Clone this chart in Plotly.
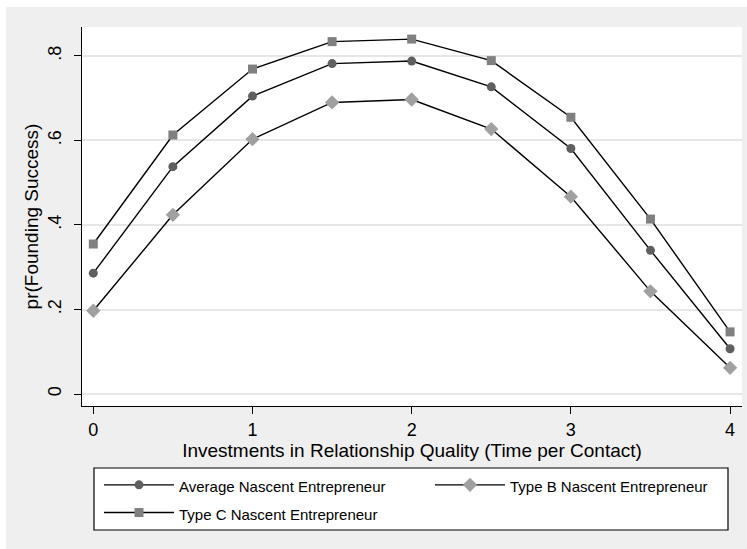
import plotly.graph_objects as go

# Investments in relationship quality (time per contact)
x_vals = [0, 0.5, 1, 1.5, 2, 2.5, 3, 3.5, 4]

# Predicted probability of founding success by entrepreneur type
avg_entrepreneur = [0.286, 0.538, 0.705, 0.782, 0.788, 0.727, 0.581, 0.340, 0.107]
type_b_entrepreneur = [0.197, 0.424, 0.603, 0.690, 0.697, 0.627, 0.467, 0.243, 0.062]
type_c_entrepreneur = [0.355, 0.613, 0.769, 0.834, 0.840, 0.789, 0.655, 0.414, 0.147]

series_names = ["Average Nascent Entrepreneur", "Type B Nascent Entrepreneur",
                "Type C Nascent Entrepreneur"]

y_tickvals = [0, 0.2, 0.4, 0.6, 0.8]
y_ticktext = ["0", ".2", ".4", ".6", ".8"]
x_tickvals = [0, 1, 2, 3, 4]
x_ticktext = ["0", "1", "2", "3", "4"]

FONT = "Liberation Sans, Arial, sans-serif"


def legend_label(text):
    return '<span style="font-size:15px">' + text + '</span>'


fig = go.Figure()
fig.add_trace(go.Scatter(
    x=x_vals, y=avg_entrepreneur, name=legend_label(series_names[0]), mode="lines+markers",
    line=dict(color="black", width=1.4),
    marker=dict(symbol="circle", size=9, color="#5f5f5f"),
))
fig.add_trace(go.Scatter(
    x=x_vals, y=type_b_entrepreneur, name=legend_label(series_names[1]), mode="lines+markers",
    line=dict(color="black", width=1.4),
    marker=dict(symbol="diamond", size=11, color="#a0a0a0"),
))
fig.add_trace(go.Scatter(
    x=x_vals, y=type_c_entrepreneur, name=legend_label(series_names[2]), mode="lines+markers",
    line=dict(color="black", width=1.4),
    marker=dict(symbol="square", size=9, color="#808080"),
))

W, H = 747, 549
L, R, T, B = 82, 5, 27, 143
pw, ph = W - L - R, H - T - B


def px_to_paper_x(px):
    return (px - L) / pw


def px_to_paper_y(py):
    return (H - B - py) / ph


shapes = [
    # white strips around the grey background
    dict(type="rect", xref="paper", yref="paper", layer="below",
         x0=px_to_paper_x(0), x1=px_to_paper_x(W), y0=px_to_paper_y(7), y1=px_to_paper_y(0),
         fillcolor="white", line=dict(width=0)),
    dict(type="rect", xref="paper", yref="paper", layer="below",
         x0=px_to_paper_x(0), x1=px_to_paper_x(6), y0=px_to_paper_y(H), y1=px_to_paper_y(0),
         fillcolor="white", line=dict(width=0)),
    # legend frame
    dict(type="rect", xref="paper", yref="paper", layer="below",
         x0=px_to_paper_x(94), x1=px_to_paper_x(728), y0=px_to_paper_y(530), y1=px_to_paper_y(468),
         fillcolor="white", line=dict(color="black", width=1.2)),
]

fig.update_layout(
    width=W, height=H,
    margin=dict(l=L, r=R, t=T, b=B),
    paper_bgcolor="#efefef",
    plot_bgcolor="white",
    font=dict(family=FONT, size=19, color="black"),
    shapes=shapes,
    showlegend=True,
    legend=dict(
        orientation="h",
        xref="container", yref="container",
        x=99 / W, xanchor="left",
        y=1 - 466 / H, yanchor="top",
        bgcolor="rgba(0,0,0,0)", borderwidth=0,
        font=dict(family=FONT, size=19, color="black"),
        itemwidth=70,
        entrywidth=246,
        traceorder="normal",
    ),
    xaxis=dict(
        range=[-0.071, 4.075],
        tickvals=x_tickvals, ticktext=x_ticktext,
        showgrid=False, zeroline=False,
        showline=True, linecolor="black", linewidth=1.3,
        ticks="outside", ticklen=7, tickwidth=1.2, tickcolor="black",
        tickfont=dict(size=18),
        title=dict(text="Investments in Relationship Quality (Time per Contact)",
                   font=dict(size=19), standoff=2),
    ),
    yaxis=dict(
        range=[-0.0284, 0.8686],
        tickvals=y_tickvals, ticktext=y_ticktext,
        showgrid=True, gridcolor="#e6e6e6", gridwidth=1.5,
        zeroline=False,
        showline=True, linecolor="black", linewidth=1.3,
        ticks="outside", ticklen=7, tickwidth=1.2, tickcolor="black",
        tickangle=-90,
        ticklabelstandoff=6,
        tickfont=dict(size=18),
        title=dict(text="pr(Founding Success)", font=dict(size=19), standoff=1),
    ),
)

fig.write_html("out.html")
